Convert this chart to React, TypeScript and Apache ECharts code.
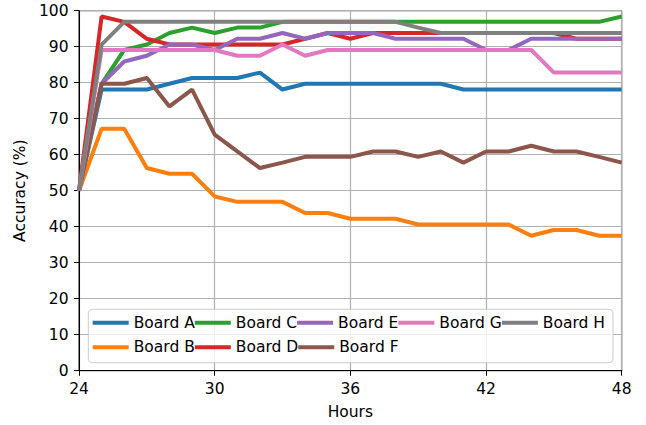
import React, { useEffect, useRef } from "react";
import * as echarts from "echarts";

const hours = [24, 25, 26, 27, 28, 29, 30, 31, 32, 33, 34, 35, 36, 37, 38, 39, 40, 41, 42, 43, 44, 45, 46, 47, 48];

const boardA = [50, 78.1, 78.1, 78.1, 79.7, 81.3, 81.3, 81.3, 82.8, 78.1, 79.7, 79.7, 79.7, 79.7, 79.7, 79.7, 79.7, 78.1, 78.1, 78.1, 78.1, 78.1, 78.1, 78.1, 78.1];
const boardB = [50, 67.2, 67.2, 56.3, 54.7, 54.7, 48.4, 46.9, 46.9, 46.9, 43.8, 43.8, 42.2, 42.2, 42.2, 40.6, 40.6, 40.6, 40.6, 40.6, 37.5, 39.1, 39.1, 37.5, 37.5];
const boardC = [50, 79.7, 89.1, 90.6, 93.8, 95.3, 93.8, 95.3, 95.3, 96.9, 96.9, 96.9, 96.9, 96.9, 96.9, 96.9, 96.9, 96.9, 96.9, 96.9, 96.9, 96.9, 96.9, 96.9, 98.4];
const boardD = [50, 98.4, 96.9, 92.2, 90.6, 90.6, 90.6, 90.6, 90.6, 90.6, 92.2, 93.8, 92.2, 93.8, 93.8, 93.8, 93.8, 93.8, 93.8, 93.8, 93.8, 93.8, 92.2, 92.2, 92.2];
const boardE = [50, 79.7, 85.9, 87.5, 90.6, 90.6, 89.1, 92.2, 92.2, 93.8, 92.2, 93.8, 93.8, 93.8, 92.2, 92.2, 92.2, 92.2, 89.1, 89.1, 92.2, 92.2, 92.2, 92.2, 92.2];
const boardF = [50, 79.7, 79.7, 81.3, 73.4, 78.1, 65.6, 60.9, 56.3, 57.8, 59.4, 59.4, 59.4, 60.9, 60.9, 59.4, 60.9, 57.8, 60.9, 60.9, 62.5, 60.9, 60.9, 59.4, 57.8];
const boardG = [50, 89.1, 89.1, 89.1, 89.1, 89.1, 89.1, 87.5, 87.5, 90.6, 87.5, 89.1, 89.1, 89.1, 89.1, 89.1, 89.1, 89.1, 89.1, 89.1, 89.1, 82.8, 82.8, 82.8, 82.8];
const boardH = [50, 90.6, 96.9, 96.9, 96.9, 96.9, 96.9, 96.9, 96.9, 96.9, 96.9, 96.9, 96.9, 96.9, 96.9, 95.3, 93.8, 93.8, 93.8, 93.8, 93.8, 93.8, 93.8, 93.8, 93.8];

const seriesNames = ["Board A", "Board B", "Board C", "Board D", "Board E", "Board F", "Board G", "Board H"];
const seriesValues = [boardA, boardB, boardC, boardD, boardE, boardF, boardG, boardH];
const colors = ["#1f77b4", "#ff7f0e", "#2ca02c", "#d62728", "#9467bd", "#8c564b", "#e377c2", "#7f7f7f"];
const legendOrder = ["Board A", "Board C", "Board E", "Board G", "Board H", "Board B", "Board D", "Board F"];
const xTicks = { min: 24, max: 48, interval: 6 };
const yTicks = { min: 0, max: 100, interval: 10 };

const FONT = "DejaVu Sans";
const FS = 15.5;

export default function App() {
  const ref = useRef<HTMLDivElement>(null);
  useEffect(() => {
    if (!ref.current) return;
    const chart = echarts.init(ref.current, undefined, { renderer: "svg" });
    const option: any = {
      animation: false,
      textStyle: { fontFamily: FONT },
      grid: {
        left: 79,
        right: 24.3,
        top: 10.7,
        bottom: 54.3,
        show: true,
        borderColor: "#000",
        borderWidth: 1,
        backgroundColor: "transparent",
      },
      xAxis: {
        type: "value",
        min: xTicks.min,
        max: xTicks.max,
        interval: xTicks.interval,
        name: "Hours",
        nameLocation: "middle",
        nameGap: 33,
        nameTextStyle: { color: "#000", fontSize: FS, fontFamily: FONT },
        axisLine: { show: true, lineStyle: { color: "#000", width: 1 } },
        axisTick: { show: true, length: 5, lineStyle: { color: "#000" } },
        axisLabel: { color: "#000", fontSize: FS, fontFamily: FONT, margin: 10 },
        splitLine: { show: true, lineStyle: { color: "#b0b0b0", width: 1.2 } },
      },
      yAxis: {
        type: "value",
        min: yTicks.min,
        max: yTicks.max,
        interval: yTicks.interval,
        name: "Accuracy (%)",
        nameLocation: "middle",
        nameRotate: 90,
        nameGap: 46,
        nameTextStyle: { color: "#000", fontSize: FS, fontFamily: FONT },
        axisLine: { show: true, lineStyle: { color: "#000", width: 1 } },
        axisTick: { show: true, length: 5, lineStyle: { color: "#000" } },
        axisLabel: { color: "#000", fontSize: FS, fontFamily: FONT, margin: 10.5 },
        splitLine: { show: true, lineStyle: { color: "#b0b0b0", width: 1.2 } },
      },
      legend: {
        data: legendOrder,
        orient: "horizontal",
        left: 88.3,
        top: 309.3,
        width: 530,
        padding: [1.1, 8, 3.1, 4.4],
        itemGap: 0,
        itemWidth: 36,
        itemHeight: 4,
        icon: "rect",
        selectedMode: false,
        backgroundColor: "rgba(255,255,255,0.8)",
        borderColor: "#cccccc",
        borderWidth: 1,
        borderRadius: 4,
        textStyle: { color: "#000", fontSize: FS, fontFamily: FONT, lineHeight: 24.6 },
        z: 10,
      },
      series: seriesNames.map((name, i) => ({
        name,
        type: "line",
        data: hours.map((h, j) => [h, seriesValues[i][j]]),
        showSymbol: false,
        symbol: "none",
        lineStyle: { color: colors[i], width: 4 },
        itemStyle: { color: colors[i] },
        z: 2 + i * 0.01,
      })),
    };
    chart.setOption(option);
    return () => chart.dispose();
  }, []);
  return (
    <div
      ref={ref}
      style={{ position: "fixed", left: 0, top: 0, width: 646, height: 425, background: "#fff" }}
    />
  );
}
